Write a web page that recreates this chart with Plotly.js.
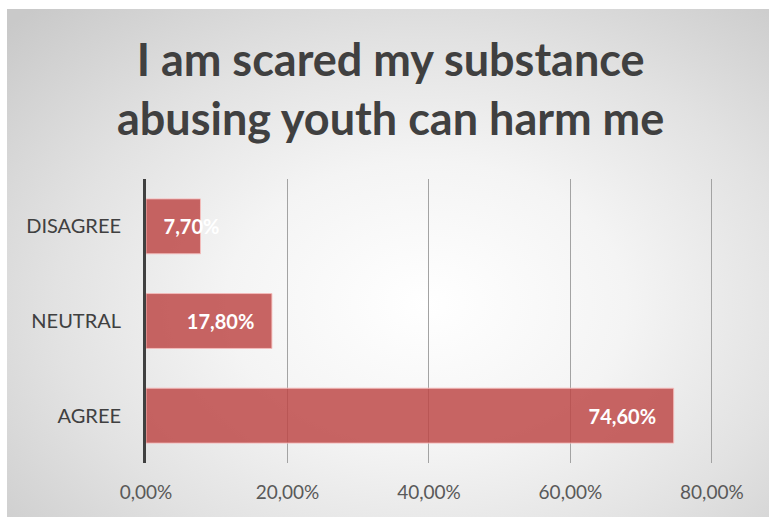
<!DOCTYPE html>
<html>
<head>
<meta charset="utf-8">
<script src="https://cdn.plot.ly/plotly-3.0.1.min.js"></script>
<style>
  html, body { margin: 0; padding: 0; background: #ffffff; }
  #wrap { position: relative; width: 769px; height: 517px; overflow: hidden; }
  #bg { position: absolute; left: 7px; top: 9px; width: 762px; height: 508px;
        background: radial-gradient(ellipse 75% 80% at 55% 58%, #ffffff 0%, #f4f4f4 35%, #e2e2e2 65%, #c9c9c9 100%); }
  #chart { position: absolute; left: 0; top: 0; width: 769px; height: 517px; }
</style>
</head>
<body>
<div id="wrap"><div id="bg"></div><div id="chart"></div></div>
<script>
const titleText = 'I am scared my substance<br>abusing youth can harm me';
const categories = ['DISAGREE', 'NEUTRAL', 'AGREE'];
const values = [7.7, 17.8, 74.6];
const tickValues = [0, 20, 40, 60, 80];
const tickLabels = ['0,00%', '20,00%', '40,00%', '60,00%', '80,00%'];

const barColor = 'rgba(190,72,70,0.84)';
const barLine = {color: 'rgba(245,190,188,0.9)', width: 1};
const labelFont = {family: 'Lato, Carlito, sans-serif', size: 20, color: '#ffffff', weight: 'bold'};

const traceStart = {
  type: 'bar', orientation: 'h',
  y: [categories[0]], x: [values[0]],
  width: 0.58,
  marker: {color: barColor, line: barLine},
  texttemplate: '\u00a0\u00a0\u00a0%{x:.2f}%',
  textposition: 'inside', insidetextanchor: 'start', constraintext: 'none', textangle: 0,
  insidetextfont: labelFont, cliponaxis: false,
  hoverinfo: 'skip', showlegend: false
};
const traceEnd = {
  type: 'bar', orientation: 'h',
  y: categories.slice(1), x: values.slice(1),
  width: 0.58,
  marker: {color: barColor, line: barLine},
  texttemplate: '%{x:.2f}%\u00a0\u00a0\u00a0',
  textposition: 'inside', insidetextanchor: 'end', constraintext: 'none', textangle: 0,
  insidetextfont: labelFont,
  hoverinfo: 'skip', showlegend: false
};

const layout = {
  width: 769, height: 517,
  paper_bgcolor: 'rgba(0,0,0,0)', plot_bgcolor: 'rgba(0,0,0,0)',
  separators: ',.',
  barmode: 'overlay',
  margin: {l: 146, r: 55, t: 179, b: 54},
  title: {
    text: titleText,
    font: {family: 'Lato, Carlito, sans-serif', size: 45, color: '#404040', weight: 'bold'},
    x: 0.508, xanchor: 'center', xref: 'container',
    y: 1 - 76 / 517, yanchor: 'middle', yref: 'container'
  },
  xaxis: {
    range: [0, 80.3], tickvals: tickValues, ticktext: tickLabels,
    showgrid: true, gridcolor: '#a3a3a3', gridwidth: 1,
    zeroline: false, showline: false, ticks: '',
    ticklabelstandoff: 16,
    tickfont: {family: 'Lato, Carlito, sans-serif', size: 19, color: '#595959'},
    fixedrange: true
  },
  yaxis: {
    type: 'category', categoryorder: 'array', categoryarray: categories,
    autorange: 'reversed',
    showline: true, linecolor: '#404040', linewidth: 3,
    showgrid: false, zeroline: false, ticks: '',
    ticklabelstandoff: 18,
    tickfont: {family: 'Lato, Carlito, sans-serif', size: 20, color: '#404040'},
    fixedrange: true
  }
};

Plotly.newPlot('chart', [traceStart, traceEnd], layout, {displayModeBar: false, staticPlot: true});
</script>
</body>
</html>
